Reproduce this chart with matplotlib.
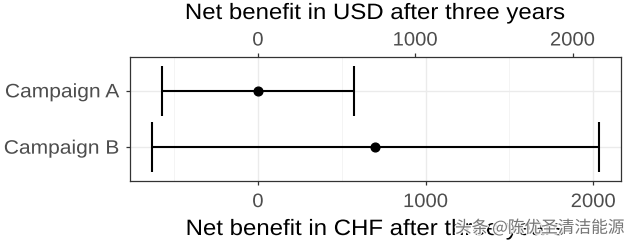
import matplotlib
matplotlib.use("Agg")
import matplotlib.pyplot as plt
from matplotlib import patheffects
from matplotlib.ticker import FixedLocator, MultipleLocator
from matplotlib.transforms import Affine2D

# values in CHF
campaigns = ["Campaign A", "Campaign B"]
estimate = [0, 700]
lower = [-575, -630]
upper = [575, 2032]
usd_ticks = [0, 1000, 2000]

usd_per_chf = 1.066  # from the top axis spacing

W, H = 626, 244


class StretchX(patheffects.AbstractPathEffect):
    """Widen text glyphs a bit (the source image is slightly stretched)."""

    def __init__(self, sx, anchor):
        super().__init__()
        self.sx = sx
        self.anchor = anchor  # 0 left, 0.5 centre, 1 right

    def draw_path(self, renderer, gc, tpath, affine, rgbFace=None):
        ext = tpath.get_extents()
        xa = ext.x0 + self.anchor * ext.width
        t = Affine2D().translate(-xa, 0).scale(self.sx, 1).translate(xa, 0) + affine
        renderer.draw_path(gc, tpath, t, rgbFace)


plt.rcParams["font.family"] = ["Liberation Sans", "DejaVu Sans"]

fig = plt.figure(figsize=(W / 100, H / 100), dpi=100)
ax = fig.add_axes([130 / W, (H - 181) / H, 491 / W, 124 / H])

ypos = list(range(len(campaigns)))
err = [[e - lo for e, lo in zip(estimate, lower)],
       [hi - e for e, hi in zip(estimate, upper)]]
ax.errorbar(estimate, ypos, xerr=err, fmt="o", color="black", ms=6.3,
            lw=1.5, capsize=18, capthick=1.5, zorder=3)

ax.set_xlim(-763, 2165)
ax.set_ylim(len(campaigns) - 1 + 0.6, -0.6)
ax.set_yticks(ypos)
ax.set_yticklabels(campaigns)

ax.xaxis.set_major_locator(MultipleLocator(1000))
ax.xaxis.set_minor_locator(MultipleLocator(500))
ax.grid(True, which="major", color="#ebebeb", lw=1.0, zorder=0)
ax.grid(True, which="minor", axis="x", color="#f2f2f2", lw=0.6, zorder=0)
ax.set_axisbelow(True)

for s in ax.spines.values():
    s.set_color("#333333")
    s.set_linewidth(0.9)

ax.tick_params(which="major", length=2.9, width=0.9, color="#333333",
               labelsize=14, labelcolor="#4d4d4d")
ax.tick_params(axis="x", pad=6.5)
ax.tick_params(axis="y", pad=4.3)
ax.tick_params(which="minor", length=0)

top = ax.secondary_xaxis("top", functions=(lambda x: x * usd_per_chf,
                                           lambda x: x / usd_per_chf))
top.xaxis.set_major_locator(FixedLocator(usd_ticks))
top.tick_params(length=2.9, width=0.9, color="#333333", labelsize=14,
                labelcolor="#4d4d4d", pad=2.5)
top.spines["top"].set_visible(False)

# axis titles, placed by baseline
cx = (130 + 621) / 2 / W
stretch_c = [StretchX(1.08, 0.5)]
fig.text(cx, 1 - 19 / H, "Net benefit in USD after three years", fontsize=16,
         ha="center", va="baseline", path_effects=stretch_c)
fig.text(cx, 1 - 235 / H, "Net benefit in CHF after three years", fontsize=16,
         ha="center", va="baseline", path_effects=stretch_c)

# watermark
fig.text(455 / W, 1 - 228 / H, "头条 @陈优圣清洁能源", fontsize=12,
         color="#6a6a6a", alpha=0.9, va="center", ha="left",
         family=["Noto Sans CJK SC", "DejaVu Sans"],
         path_effects=[patheffects.withStroke(linewidth=2, foreground="white")])

fig.canvas.draw()
for lab in ax.get_yticklabels():
    lab.set_path_effects([StretchX(1.08, 1.0)])
for lab in ax.get_xticklabels() + top.get_xticklabels():
    lab.set_path_effects([StretchX(1.04, 0.5)])

fig.savefig("out.png", dpi=100, facecolor="white")
